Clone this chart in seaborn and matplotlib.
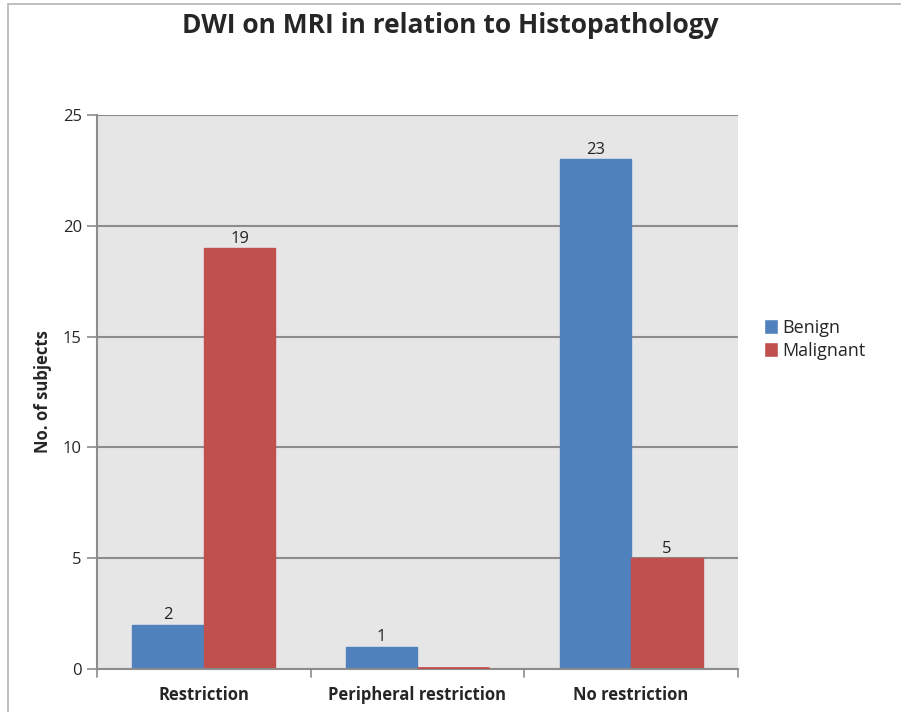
import pandas as pd
import matplotlib.pyplot as plt
import seaborn as sns
from matplotlib.patches import Rectangle

categories = ['Restriction', 'Peripheral restriction', 'No restriction']
benign = [2, 1, 23]
malignant = [19, 0, 5]

df = pd.DataFrame({
    'DWI': categories * 2,
    'Count': benign + malignant,
    'Histopathology': ['Benign'] * 3 + ['Malignant'] * 3,
})

sns.set_style('white')
plt.rcParams['font.family'] = ['Open Sans', 'DejaVu Sans']

fig = plt.figure(figsize=(9.01, 7.12), dpi=100)
ax = fig.add_axes([0.1077, 0.0604, 0.819 - 0.1077, 0.8385 - 0.0604])

# light frame around the chart
fig.patches.append(Rectangle((8 / 901, -0.01), 1.1, 1 - 4 / 712 + 0.01, transform=fig.transFigure,
                             fill=False, edgecolor='#b4b4b4', linewidth=1.2))

colors = {'Benign': '#4f81bd', 'Malignant': '#c0504d'}
sns.barplot(data=df, x='DWI', y='Count', hue='Histopathology', palette=colors,
            width=0.67, ax=ax, saturation=1, errorbar=None)

for cont, name in zip(ax.containers, ['Benign', 'Malignant']):
    for bar in cont:
        bar.set_edgecolor(colors[name])
        bar.set_linewidth(1.0)
        if bar.get_height() == 0:
            # zero-height bar shows as a thin line on the baseline
            ax.hlines(0.03, bar.get_x(), bar.get_x() + bar.get_width(),
                      color=colors[name], linewidth=2, zorder=3)
    ax.bar_label(cont, labels=[str(int(v)) if v > 0 else '' for v in cont.datavalues],
                 padding=1, fontsize=12, color='#222222')

ax.set_facecolor('#e6e6e6')
ax.set_ylim(0, 25)
ax.set_xlim(-0.5, 2.5)
ax.set_yticks([0, 5, 10, 15, 20, 25])
ax.yaxis.grid(True, color='#8c8c8c', linewidth=1.5)
ax.set_axisbelow(True)
for s in ['top', 'right']:
    ax.spines[s].set_visible(False)
for s in ['left', 'bottom']:
    ax.spines[s].set_color('#8c8c8c')
    ax.spines[s].set_linewidth(1.5)

ax.tick_params(axis='y', length=7, width=1.2, color='#8c8c8c', labelsize=12, pad=4, left=True)
ax.set_xticks([0, 1, 2])
ax.set_xticklabels(categories, fontsize=12, fontweight='bold')
ax.tick_params(axis='x', length=0, pad=12)
for xb in [-0.5, 0.5, 1.5, 2.5]:
    ax.plot([xb, xb], [0, -0.35], color='#8c8c8c', linewidth=1.2, clip_on=False)

ax.set_xlabel('')
ax.set_ylabel('No. of subjects', fontsize=12, fontweight='bold', labelpad=8)

fig.suptitle('DWI on MRI in relation to Histopathology', fontsize=19, fontweight='bold',
             y=1 - 12 / 712, va='top')

ax.legend(title=None, loc='center left', bbox_to_anchor=(1.015, 0.595), frameon=False,
          fontsize=13, handlelength=0.8, handleheight=0.9, handletextpad=0.2, labelspacing=0.25)

fig.savefig('out.png', dpi=100)
